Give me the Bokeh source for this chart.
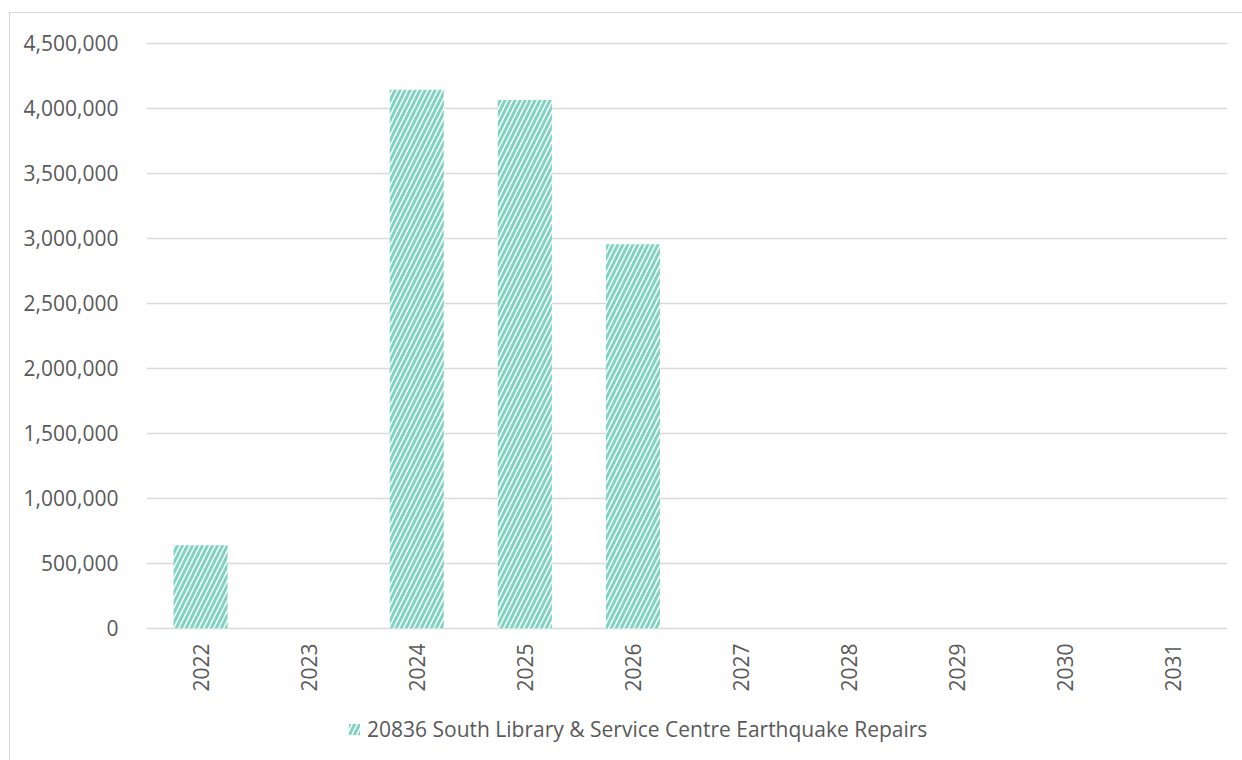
import math
from bokeh.plotting import figure
from bokeh.models import ColumnDataSource, Legend, LegendItem, NumeralTickFormatter, FixedTicker, Range1d
from bokeh.core.properties import value
from bokeh.embed import file_html
from bokeh.resources import INLINE

years = ["2022", "2023", "2024", "2025", "2026", "2027", "2028", "2029", "2030", "2031"]
values = [640000, 0, 4145000, 4065000, 2955000, 0, 0, 0, 0, 0]
series_name = "20836 South Library & Service Centre Earthquake Repairs"
y_ticks = [0, 500000, 1000000, 1500000, 2000000, 2500000, 3000000, 3500000, 4000000, 4500000]

src = ColumnDataSource(dict(x=years, top=values))
lab_src = ColumnDataSource(dict(x=years, y=[0] * len(years), text=years))

FONT = "Open Sans"
GRAY = "#595959"

# frame extends below the zero line so the category labels and legend live inside it
p = figure(x_range=years, y_range=Range1d(-992308, 4507692), width=1233, height=748,
           output_backend="svg", toolbar_location=None,
           min_border_left=136, min_border_right=16, min_border_top=29,
           min_border_bottom=4, margin=(12, 0, 0, 9),
           styles={"border-top": "1px solid #d9d9d9", "border-left": "1px solid #d9d9d9",
                   "box-sizing": "border-box"})
p.outline_line_color = None

r = p.vbar(x="x", top="top", width=0.5, source=src, fill_color="white", line_color=None,
           hatch_pattern="/", hatch_color="#7fd3c1", hatch_scale=10, hatch_weight=3)

p.text(x="x", y="y", text="text", source=lab_src, angle=math.pi / 2, y_offset=15,
       text_align="right", text_baseline="middle", text_font=value(FONT),
       text_font_size="21px", text_color=GRAY)

p.yaxis.ticker = FixedTicker(ticks=y_ticks)
p.yaxis.formatter = NumeralTickFormatter(format="0,0")
p.yaxis.axis_line_color = None
p.yaxis.major_tick_line_color = None
p.yaxis.minor_tick_line_color = None
p.yaxis.major_label_text_font = FONT
p.yaxis.major_label_text_font_size = "21px"
p.yaxis.major_label_text_color = GRAY
p.yaxis.major_label_standoff = 22

p.xaxis.visible = False

p.xgrid.grid_line_color = None
p.ygrid.grid_line_color = "#d9d9d9"
p.ygrid.grid_line_width = 1.5
p.ygrid.ticker = FixedTicker(ticks=y_ticks)

legend = Legend(items=[LegendItem(label=series_name, renderers=[r])],
                location=(201, 14), orientation="horizontal",
                label_text_font=FONT, label_text_font_size="21px", label_text_color=GRAY,
                glyph_width=14, glyph_height=14, label_standoff=6,
                border_line_color=None, background_fill_alpha=0, padding=0, margin=0)
p.add_layout(legend, "center")

open("out.html", "w").write(file_html(p, INLINE))
